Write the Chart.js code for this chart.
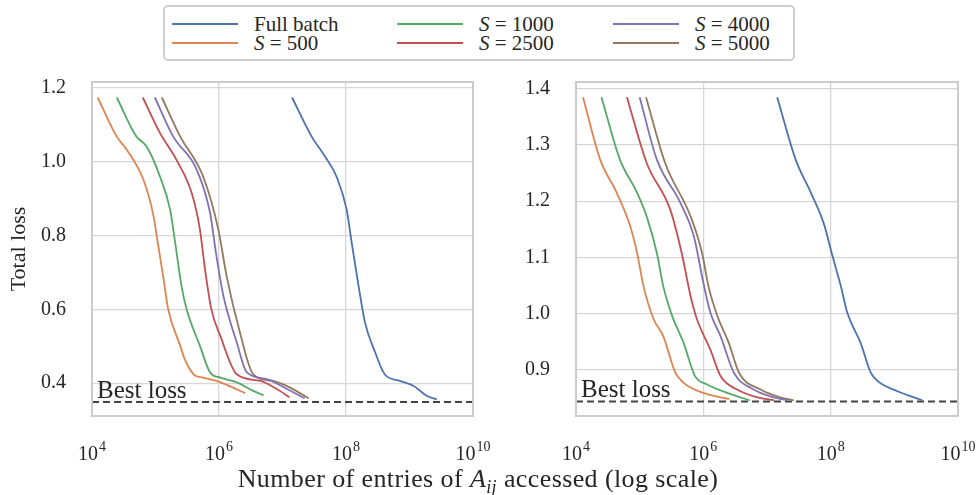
<!DOCTYPE html>
<html>
<head>
<meta charset="utf-8">
<script src="https://cdn.jsdelivr.net/npm/chart.js@4.4.1/dist/chart.umd.min.js"></script>
<style>
  body { margin: 0; background: #fff; width: 980px; height: 495px; overflow: hidden; position: relative;
         font-family: 'Liberation Serif'; color: #262626; }
  canvas { position: absolute; top: 62px; }
  #legend { position: absolute; left: 163px; top: 5px; width: 628px; height: 52px;
            border: 2px solid #cfcfcf; border-radius: 5px; }
  .item { position: absolute; display: flex; align-items: center; font-size: 21px; line-height: 20px; }
  .item .swatch { width: 66px; height: 2px; margin-right: 16px; }
  #xtitle { position: absolute; left: 0; width: 956px; top: 466px; text-align: center;
            font-size: 26px; line-height: 26px; letter-spacing: 0.4px; white-space: nowrap; }
  #xtitle sub { font-size: 18px; line-height: 0; }
</style>
</head>
<body>
<div id="legend"></div>
<canvas id="leftChart" width="490" height="403" style="left:0"></canvas>
<canvas id="rightChart" width="490" height="403" style="left:490px"></canvas>
<div id="xtitle">Number of entries of <i>A</i><sub><i>ij</i></sub> accessed (log scale)</div>

<script>
// series names and colours
const seriesNames = ["Full batch", "S = 500", "S = 1000", "S = 2500", "S = 4000", "S = 5000"];
const seriesColors = ["#4c72b0", "#dd8452", "#55a868", "#c44e52", "#8172b3", "#937860"];

// x ticks (log scale), drawn as 10^exp
const xTickValues = [1e4, 1e6, 1e8, 1e10];
const xTickExps = ["4", "6", "8", "10"];
const leftYTicks = [0.4, 0.6, 0.8, 1.0, 1.2];
const rightYTicks = [0.9, 1.0, 1.1, 1.2, 1.3, 1.4];

const bestLossLeft = 0.349;
const bestLossRight = 0.844;

// left panel: log10(entries accessed) and total loss, per series
const leftFullLogX = [7.15, 7.46, 7.67, 7.85, 8.01, 8.09, 8.19, 8.30, 8.46, 8.61, 8.85, 9.06, 9.27, 9.43];
const leftFullY    = [1.174, 1.068, 1.014, 0.960, 0.870, 0.780, 0.672, 0.564, 0.483, 0.424, 0.406, 0.393, 0.366, 0.356];
const left500LogX  = [4.09, 4.39, 4.55, 4.81, 4.97, 5.02, 5.12, 5.20, 5.39, 5.46, 5.60, 5.75, 5.96, 6.22, 6.41];
const left500Y     = [1.174, 1.068, 1.032, 0.951, 0.852, 0.798, 0.690, 0.600, 0.501, 0.465, 0.424, 0.415, 0.406, 0.388, 0.373];
const left1000LogX = [4.39, 4.70, 4.86, 5.07, 5.23, 5.31, 5.41, 5.49, 5.70, 5.86, 6.02, 6.28, 6.54, 6.70];
const left1000Y    = [1.174, 1.068, 1.041, 0.960, 0.870, 0.780, 0.663, 0.600, 0.501, 0.429, 0.415, 0.402, 0.379, 0.367];
const left2500LogX = [4.80, 5.07, 5.33, 5.57, 5.70, 5.78, 5.88, 6.02, 6.28, 6.65, 6.91, 7.11];
const left2500Y    = [1.174, 1.078, 1.005, 0.915, 0.816, 0.708, 0.600, 0.528, 0.424, 0.406, 0.384, 0.362];
const left4000LogX = [4.99, 5.28, 5.65, 5.86, 5.96, 6.07, 6.28, 6.44, 6.75, 7.07, 7.35];
const left4000Y    = [1.174, 1.068, 0.978, 0.861, 0.744, 0.636, 0.510, 0.429, 0.411, 0.384, 0.359];
const left5000LogX = [5.10, 5.39, 5.75, 5.99, 6.12, 6.33, 6.54, 6.85, 7.12, 7.41];
const left5000Y    = [1.174, 1.068, 0.960, 0.816, 0.690, 0.537, 0.424, 0.406, 0.388, 0.359];

// right panel
const rightFullLogX = [7.16, 7.45, 7.69, 7.89, 8.03, 8.16, 8.26, 8.47, 8.63, 8.74, 9.05, 9.44];
const rightFullY    = [1.385, 1.274, 1.215, 1.161, 1.102, 1.049, 1.002, 0.948, 0.895, 0.880, 0.862, 0.846];
const right500LogX  = [4.11, 4.38, 4.64, 4.85, 4.96, 5.06, 5.22, 5.37, 5.56, 5.69, 6.00, 6.41];
const right500Y     = [1.385, 1.274, 1.215, 1.156, 1.108, 1.049, 0.990, 0.960, 0.895, 0.877, 0.859, 0.848];
const right1000LogX = [4.40, 4.69, 4.96, 5.11, 5.27, 5.37, 5.51, 5.69, 5.87, 6.06, 6.43, 6.73];
const right1000Y    = [1.385, 1.274, 1.215, 1.173, 1.108, 1.049, 0.996, 0.948, 0.889, 0.874, 0.857, 0.846];
const right2500LogX = [4.80, 5.11, 5.48, 5.66, 5.80, 5.90, 6.11, 6.27, 6.53, 6.85, 7.11];
const right2500Y    = [1.385, 1.268, 1.185, 1.108, 1.031, 0.990, 0.936, 0.889, 0.865, 0.851, 0.846];
const right4000LogX = [5.00, 5.27, 5.64, 5.85, 6.00, 6.11, 6.27, 6.48, 6.79, 7.11, 7.32];
const right4000Y    = [1.385, 1.274, 1.197, 1.138, 1.055, 1.002, 0.960, 0.895, 0.865, 0.851, 0.846];
const right5000LogX = [5.10, 5.40, 5.80, 5.98, 6.08, 6.22, 6.40, 6.56, 6.90, 7.21, 7.42];
const right5000Y    = [1.385, 1.268, 1.173, 1.108, 1.049, 0.996, 0.948, 0.895, 0.865, 0.851, 0.846];

const FONT = "'Liberation Serif'";
const TEXT = "#262626";

// legend (column-major, 2 rows)
const legendCols = [7, 232, 448];
const legendRows = [17, 36];
const legendEl = document.getElementById("legend");
seriesNames.forEach((name, i) => {
    const item = document.createElement("div");
    item.className = "item";
    item.style.left = legendCols[Math.floor(i / 2)] + "px";
    item.style.top = (legendRows[i % 2] - 10) + "px";
    const label = name.replace(/^S /, "<i>S</i> ");
    item.innerHTML = `<span class="swatch" style="background:${seriesColors[i]}"></span><span>${label}</span>`;
    legendEl.appendChild(item);
});

function toPoints(logX, ys) {
    return logX.map((lx, i) => ({ x: Math.pow(10, lx), y: ys[i] }));
}

const framePlugin = {
    id: "frame",
    afterDraw(chart) {
        const { ctx, chartArea: a } = chart;
        ctx.save();
        ctx.strokeStyle = "#cbcbcb";
        ctx.lineWidth = 2;
        ctx.strokeRect(a.left, a.top, a.right - a.left, a.bottom - a.top);

        // x tick labels as 10 with superscript exponent
        ctx.fillStyle = TEXT;
        ctx.textBaseline = "alphabetic";
        ctx.textAlign = "left";
        const base = a.bottom + 44;
        xTickValues.forEach((v, i) => {
            const px = chart.scales.x.getPixelForValue(v);
            ctx.font = "20px " + FONT;
            const w1 = ctx.measureText("10").width;
            ctx.font = "14px " + FONT;
            const w2 = ctx.measureText(xTickExps[i]).width;
            const start = px - (w1 + w2 + 1) / 2;
            ctx.font = "20px " + FONT;
            ctx.fillText("10", start, base);
            ctx.font = "14px " + FONT;
            ctx.fillText(xTickExps[i], start + w1 + 1, base - 9);
        });

        // "Best loss" label
        const opts = chart.options.plugins.bestLoss;
        const y = chart.scales.y.getPixelForValue(opts.value);
        ctx.font = "25px " + FONT;
        ctx.fillText("Best loss", a.left + 5, y - 4);
        ctx.restore();
    }
};

function makeChart(id, series, bestLoss, yMin, yMax, yTicks, yWidth, padRight, yTitle) {
    const datasets = series.map((s, i) => ({
        label: seriesNames[i],
        data: toPoints(s[0], s[1]),
        borderColor: seriesColors[i],
        borderWidth: 1.8,
        pointRadius: 0,
        cubicInterpolationMode: "monotone",
        fill: false,
    }));
    datasets.push({
        label: "Best loss",
        data: [{ x: xTickValues[0], y: bestLoss }, { x: xTickValues[xTickValues.length - 1], y: bestLoss }],
        borderColor: "#444444",
        borderWidth: 2,
        borderDash: [7, 4],
        pointRadius: 0,
    });

    return new Chart(document.getElementById(id), {
        type: "line",
        data: { datasets },
        plugins: [framePlugin],
        options: {
            responsive: false,
            animation: false,
            layout: { padding: { top: 20, right: padRight, left: 0, bottom: 0 } },
            plugins: {
                legend: { display: false },
                tooltip: { enabled: false },
                bestLoss: { value: bestLoss },
            },
            scales: {
                x: {
                    type: "logarithmic",
                    min: xTickValues[0],
                    max: xTickValues[xTickValues.length - 1],
                    afterBuildTicks: (scale) => { scale.ticks = xTickValues.map(v => ({ value: v })); },
                    afterFit: (scale) => {
                        scale.height = 49;
                        scale.paddingLeft = 0;
                        scale.paddingRight = 0;
                    },
                    ticks: { display: false },
                    grid: { color: "#d6d6d6", lineWidth: 1.3, drawTicks: false },
                    border: { display: false },
                },
                y: {
                    min: yMin,
                    max: yMax,
                    afterBuildTicks: (scale) => { scale.ticks = yTicks.map(v => ({ value: v })); },
                    afterFit: (scale) => {
                        scale.width = yWidth;
                        scale.paddingTop = 0;
                        scale.paddingBottom = 0;
                    },
                    ticks: {
                        padding: 26,
                        color: TEXT,
                        font: { family: FONT, size: 20 },
                        callback: (v) => v.toFixed(1),
                    },
                    title: {
                        display: !!yTitle,
                        text: yTitle,
                        color: TEXT,
                        font: { family: FONT, size: 22 },
                        padding: { top: 6, bottom: 0 },
                    },
                    grid: { color: "#d6d6d6", lineWidth: 1.3, drawTicks: false },
                    border: { display: false },
                },
            },
        },
    });
}

makeChart("leftChart", [
    [leftFullLogX, leftFullY], [left500LogX, left500Y], [left1000LogX, left1000Y],
    [left2500LogX, left2500Y], [left4000LogX, left4000Y], [left5000LogX, left5000Y],
], bestLossLeft, 0.311, 1.216, leftYTicks, 92, 17, "Total loss");

makeChart("rightChart", [
    [rightFullLogX, rightFullY], [right500LogX, right500Y], [right1000LogX, right1000Y],
    [right2500LogX, right2500Y], [right4000LogX, right4000Y], [right5000LogX, right5000Y],
], bestLossRight, 0.818, 1.412, rightYTicks, 86, 22, "");
</script>
</body>
</html>
